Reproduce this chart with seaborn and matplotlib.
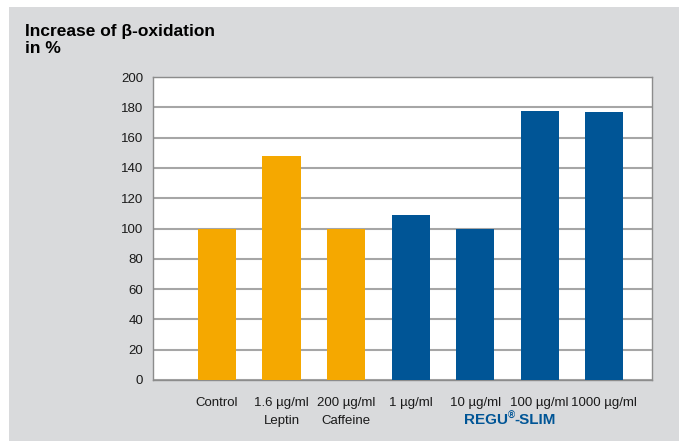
import numpy as np
import pandas as pd
import seaborn as sns
import matplotlib.pyplot as plt
import matplotlib.transforms as mtransforms
from matplotlib.patches import Rectangle

# data
categories = ['Control', '1.6 µg/ml\nLeptin', '200 µg/ml\nCaffeine', '1 µg/ml',
              '10 µg/ml', '100 µg/ml', '1000 µg/ml']
values = [100, 148, 99.5, 109, 99.5, 177.5, 177]
groups = ['ref', 'ref', 'ref', 'regu', 'regu', 'regu', 'regu']
yticks = list(range(0, 201, 20))

df = pd.DataFrame({'cat': categories, 'val': values, 'grp': groups})

sns.set_style('white')
plt.rcParams['font.family'] = ['Liberation Sans', 'DejaVu Sans']

bg = '#d9dadc'
orange = '#f5a800'
blue = '#005596'
gridc = '#a6a6a6'
spinec = '#8c8c8c'

fig = plt.figure(figsize=(6.79, 4.41), dpi=100)
fig.patch.set_facecolor('white')
# grey panel behind the chart
fig.patches.append(Rectangle((9 / 679, 0), 1 - 9 / 679, 1 - 7 / 441,
                             transform=fig.transFigure, facecolor=bg,
                             edgecolor='none', zorder=-10))

ax = fig.add_axes([153 / 679, 1 - 380 / 441, 499 / 679, 303 / 441])
ax.set_facecolor('white')

sns.barplot(data=df, x='cat', y='val', hue='grp', order=categories,
            palette={'ref': orange, 'regu': blue}, dodge=False, width=0.59,
            saturation=1, legend=False, ax=ax, zorder=3,
            edgecolor='none', linewidth=0)

ax.set_ylim(0, 200)
ax.set_xlim(-0.99, 6.74)
ax.set_yticks(yticks)
ax.set_yticklabels([str(t) for t in yticks], fontsize=9.5, color='#1a1a1a')
ax.yaxis.grid(True, color=gridc, linewidth=1.5, zorder=0)
ax.set_axisbelow(True)

# category labels on minor ticks, boundary tick marks on major ticks
ax.set_xticks([-0.99, 6.74])
ax.set_xticklabels(['', ''])
ax.set_xticks(range(len(categories)), minor=True)
ax.set_xticklabels(categories, minor=True, fontsize=9.5, color='#1a1a1a',
                   linespacing=1.75)
ax.tick_params(axis='x', which='major', length=17, width=1, color=spinec,
               direction='out')
ax.tick_params(axis='x', which='minor', length=0, pad=12)
ax.tick_params(axis='y', length=4, width=1, color=spinec, direction='out',
               pad=3)
ax.set_xlabel('')
ax.set_ylabel('')

for s in ax.spines.values():
    s.set_color(spinec)
    s.set_linewidth(1)
    s.set_visible(True)

# REGU(R)-SLIM group label, built from three pieces
trans = mtransforms.blended_transform_factory(ax.transData, ax.transAxes)
t1 = ax.text(3.82, -0.145, 'REGU', transform=trans, ha='left',
             va='baseline', fontsize=11, fontweight='bold', color=blue)
t2 = ax.annotate('®', xy=(1, 0.45), xycoords=t1, ha='left', va='bottom',
                 fontsize=7, fontweight='bold', color=blue)
t3 = ax.annotate('-SLIM', xy=(1, 0), xycoords=(t2, t1), ha='left',
                 va='bottom', fontsize=11, fontweight='bold', color=blue)

fig.text(25 / 679, 1 - 24 / 441, 'Increase of β-oxidation\nin %',
         ha='left', va='top', fontsize=12.5, fontweight='bold',
         color='black', linespacing=1.2)

fig.savefig('out.png', dpi=100, facecolor=fig.get_facecolor())
